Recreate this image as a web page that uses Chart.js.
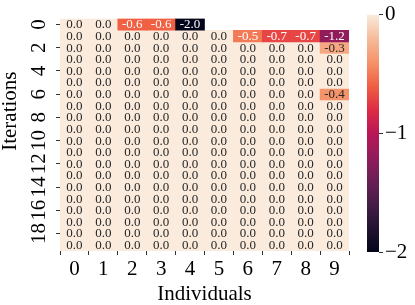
<!DOCTYPE html>
<html>
<head>
<meta charset="utf-8">
<script src="https://cdn.jsdelivr.net/npm/chart.js@4.4.1/dist/chart.umd.min.js"></script>
<style>
  body { margin: 0; background: #fff; }
  #wrap { position: relative; width: 415px; height: 305px; }
  #heat { position: absolute; left: 0; top: 0; }
  #cbar { position: absolute; left: 340px; top: 0; }
</style>
</head>
<body>
<div id="wrap">
  <canvas id="heat" width="415" height="305"></canvas>
  <canvas id="cbar" width="75" height="305"></canvas>
</div>
<script>
// data
const columns = ['0','1','2','3','4','5','6','7','8','9'];
const yTickLabels = [0, 2, 4, 6, 8, 10, 12, 14, 16, 18];
const cbarTicks = [0, -1, -2];
const vmin = -2, vmax = 0;
const values = [
  [0, 0, -0.6, -0.6, -2.0, null, null, null, null, null],
  [0, 0, 0, 0, 0, 0, -0.5, -0.7, -0.7, -1.2],
  [0, 0, 0, 0, 0, 0, 0, 0, 0, -0.3],
  [0, 0, 0, 0, 0, 0, 0, 0, 0, 0],
  [0, 0, 0, 0, 0, 0, 0, 0, 0, 0],
  [0, 0, 0, 0, 0, 0, 0, 0, 0, 0],
  [0, 0, 0, 0, 0, 0, 0, 0, 0, -0.4],
  [0, 0, 0, 0, 0, 0, 0, 0, 0, 0],
  [0, 0, 0, 0, 0, 0, 0, 0, 0, 0],
  [0, 0, 0, 0, 0, 0, 0, 0, 0, 0],
  [0, 0, 0, 0, 0, 0, 0, 0, 0, 0],
  [0, 0, 0, 0, 0, 0, 0, 0, 0, 0],
  [0, 0, 0, 0, 0, 0, 0, 0, 0, 0],
  [0, 0, 0, 0, 0, 0, 0, 0, 0, 0],
  [0, 0, 0, 0, 0, 0, 0, 0, 0, 0],
  [0, 0, 0, 0, 0, 0, 0, 0, 0, 0],
  [0, 0, 0, 0, 0, 0, 0, 0, 0, 0],
  [0, 0, 0, 0, 0, 0, 0, 0, 0, 0],
  [0, 0, 0, 0, 0, 0, 0, 0, 0, 0],
  [0, 0, 0, 0, 0, 0, 0, 0, 0, 0]
];

// rocket-like colormap, dark -> light
const rocket = ['#03051a','#221331','#451c47','#6a1f56','#921c5b','#b91657',
                '#dd2c45','#f06043','#f5936a','#f6bc9c','#faebdd'];
const FONT = "'Liberation Serif', 'DejaVu Serif', serif";

function hexRgb(h) {
  return [parseInt(h.slice(1,3),16), parseInt(h.slice(3,5),16), parseInt(h.slice(5,7),16)];
}
function cmapRgb(v) {
  let t = (v - vmin) / (vmax - vmin);
  t = Math.max(0, Math.min(1, t));
  const s = t * (rocket.length - 1);
  const i = Math.min(Math.floor(s), rocket.length - 2);
  const f = s - i;
  const a = hexRgb(rocket[i]), b = hexRgb(rocket[i+1]);
  return a.map((x, k) => Math.round(x + (b[k] - x) * f));
}
function cmap(v) {
  const c = cmapRgb(v);
  return 'rgb(' + c.join(',') + ')';
}
function textColor(v) {
  const c = cmapRgb(v).map(x => {
    x /= 255;
    return x <= 0.03928 ? x / 12.92 : Math.pow((x + 0.055) / 1.055, 2.4);
  });
  const lum = 0.2126 * c[0] + 0.7152 * c[1] + 0.0722 * c[2];
  return lum > 0.408 ? '#262626' : '#ffffff';
}

const annotate = {
  id: 'annotate',
  afterDatasetsDraw(chart) {
    const ctx = chart.ctx;
    ctx.save();
    ctx.font = '13px ' + FONT;
    ctx.textAlign = 'center';
    ctx.textBaseline = 'middle';
    values.forEach((row, r) => {
      const meta = chart.getDatasetMeta(r);
      row.forEach((v, c) => {
        if (v === null) return;
        const p = meta.data[c].getCenterPoint();
        ctx.fillStyle = textColor(v);
        ctx.fillText(v.toFixed(1), p.x, p.y + 0.5);
      });
    });
    ctx.restore();
  }
};

new Chart(document.getElementById('heat'), {
  type: 'bar',
  data: {
    labels: columns,
    datasets: values.map((row, r) => ({
      data: row.map(v => v === null ? null : [r, r + 1]),
      backgroundColor: row.map(v => v === null ? 'rgba(0,0,0,0)' : cmap(v)),
      borderWidth: 0,
      barPercentage: 1,
      categoryPercentage: 1,
      grouped: false
    }))
  },
  options: {
    responsive: false,
    animation: false,
    layout: { padding: { top: 9, right: 66, left: 0, bottom: 0 } },
    plugins: { legend: { display: false }, tooltip: { enabled: false } },
    scales: {
      x: {
        grid: { drawOnChartArea: false, tickLength: 4, color: '#333' },
        border: { display: false },
        ticks: { color: '#000', font: { family: FONT, size: 21 }, padding: 2, maxRotation: 0 },
        title: { display: true, text: 'Individuals', color: '#000',
                 font: { family: FONT, size: 21, lineHeight: 1 }, padding: 0 },
        afterFit(s) { s.height = 54; }
      },
      y: {
        type: 'linear',
        min: 0, max: 20,
        reverse: true,
        grid: { drawOnChartArea: false, tickLength: 4, color: '#333' },
        border: { display: false },
        afterBuildTicks(s) { s.ticks = yTickLabels.map(v => ({ value: v + 0.5 })); },
        ticks: {
          autoSkip: false,
          minRotation: 90, maxRotation: 90,
          crossAlign: 'center',
          padding: 6,
          color: '#000',
          font: { family: FONT, size: 21 },
          callback: v => String(v - 0.5)
        },
        title: { display: true, text: '         Iterations', color: '#000',
                 font: { family: FONT, size: 21, lineHeight: 1 }, padding: 0 },
        afterFit(s) { s.width = 60; }
      }
    }
  },
  plugins: [annotate]
});

new Chart(document.getElementById('cbar'), {
  type: 'bar',
  data: {
    labels: [''],
    datasets: [{
      data: [[vmin, vmax]],
      backgroundColor(ctx) {
        const a = ctx.chart.chartArea;
        if (!a) return rocket[rocket.length - 1];
        const g = ctx.chart.ctx.createLinearGradient(0, a.bottom, 0, a.top);
        rocket.forEach((c, i) => g.addColorStop(i / (rocket.length - 1), c));
        return g;
      },
      borderWidth: 0,
      barPercentage: 1,
      categoryPercentage: 1
    }]
  },
  options: {
    responsive: false,
    animation: false,
    layout: { padding: { top: 10, right: 0, left: 27, bottom: 53 } },
    plugins: { legend: { display: false }, tooltip: { enabled: false } },
    scales: {
      x: { display: false },
      y: {
        type: 'linear',
        position: 'right',
        min: vmin, max: vmax,
        grid: { drawOnChartArea: false, tickLength: 4, color: '#333' },
        border: { display: false },
        afterBuildTicks(s) { s.ticks = cbarTicks.map(v => ({ value: v })); },
        ticks: {
          padding: 2,
          color: '#000',
          font: { family: FONT, size: 21 },
          callback: v => v < 0 ? '\u2212' + Math.abs(v) : String(v)
        },
        afterFit(s) { s.width = 36; }
      }
    }
  }
});
</script>
</body>
</html>
